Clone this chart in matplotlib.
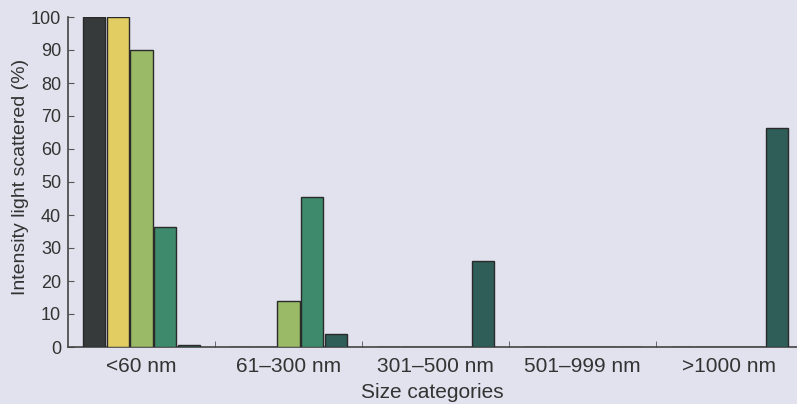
import matplotlib
matplotlib.use("Agg")
import matplotlib.pyplot as plt
import numpy as np

categories = ["<60 nm", "61\u2013300 nm", "301\u2013500 nm", "501\u2013999 nm", ">1000 nm"]
series1 = [100, 0, 0, 0, 0]
series2 = [100, 0, 0, 0, 0]
series3 = [90, 14, 0, 0, 0]
series4 = [36.5, 45.5, 0, 0, 0]
series5 = [0.5, 4, 26, 0, 66.5]
colors = ["#363a3a", "#e2cd62", "#9aba68", "#3e8a6c", "#2f5d58"]
yticks = [0, 10, 20, 30, 40, 50, 60, 70, 80, 90, 100]

plt.rcParams['font.family'] = ['Liberation Sans', 'DejaVu Sans']
bg = "#e2e2ee"
fig = plt.figure(figsize=(7.97, 4.04), dpi=100, facecolor=bg)
ax = fig.add_axes([68/797, 1-347/404, 729/797, 330/404])
ax.set_facecolor(bg)

all_series = [series1, series2, series3, series4, series5]
x = np.arange(len(categories))
pitch = 0.163
width = 0.15
for j, (vals, c) in enumerate(zip(all_series, colors)):
    ax.bar(x + 0.5 + (j - 2) * pitch, vals, width=width, color=c,
           edgecolor="#2a2a2a", linewidth=1.0, zorder=3)

ax.set_xlim(0, 729/147)
ax.set_ylim(0, 100)
ax.set_yticks(yticks)
ax.set_xticks(x + 0.5)
ax.set_xticklabels(categories, fontsize=15, color="#333333")
ax.set_xticks(np.arange(1, len(categories)), minor=True)
ax.tick_params(axis='x', which='major', length=0, pad=7)
ax.tick_params(axis='x', which='minor', direction='in', length=4, color="#555555")
ax.tick_params(axis='y', direction='in', length=4, color="#555555", labelsize=13,
               labelcolor="#333333", pad=5)
for s in ["top", "right"]:
    ax.spines[s].set_visible(False)
for s in ["left", "bottom"]:
    ax.spines[s].set_color("#444444")
    ax.spines[s].set_linewidth(1.2)

ax.set_ylabel("Intensity light scattered (%)", fontsize=14, color="#333333")
ax.yaxis.set_label_coords(-0.054, 0.515)
ax.set_xlabel("Size categories", fontsize=15, color="#333333", labelpad=5)

fig.savefig("out.png", dpi=100, facecolor=bg)
